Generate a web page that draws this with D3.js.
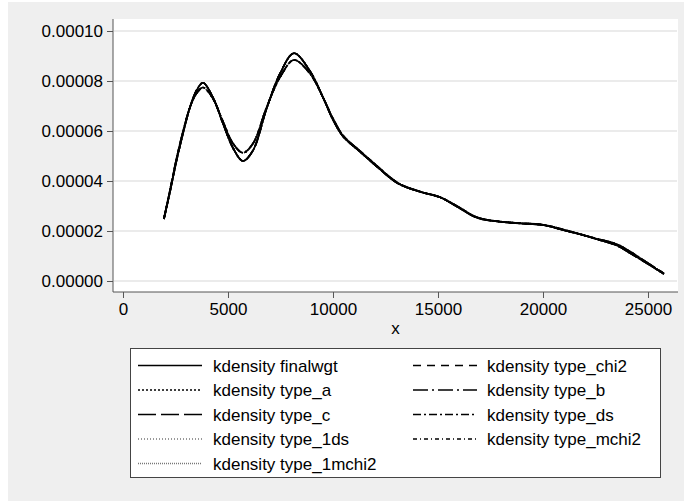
<!DOCTYPE html>
<html>
<head>
<meta charset="utf-8">
<script src="https://cdn.jsdelivr.net/npm/d3@7"></script>
<style>
  html, body { margin: 0; padding: 0; background: #fff; }
  svg text { font-family: "Liberation Sans", Arial, Helvetica, sans-serif; fill: #000; }
</style>
</head>
<body>
<main></main>
<script>
// grid of x values the densities were evaluated at
var xGrid = [1950, 2250, 2550, 2870, 3190, 3500, 3810, 4280, 4760, 5240, 5710, 6190,
             6840, 7480, 8140, 8900, 9520, 10000, 10480, 11290, 12100, 13100, 14140,
             15100, 15900, 16860, 17950, 19000, 20000, 20950, 21800, 22570, 23520,
             24140, 24950, 25760]

// narrower kernel estimates (higher peaks), in units of 1e-5
var densNarrow = [2.48, 3.62, 4.82, 5.95, 6.95, 7.62, 7.93, 7.35, 6.30, 5.32, 4.80, 5.22,
                  6.90, 8.30, 9.11, 8.40, 7.35, 6.45, 5.78, 5.17, 4.57, 3.90, 3.57,
                  3.35, 2.98, 2.53, 2.37, 2.30, 2.24, 2.04, 1.86, 1.67, 1.42,
                  1.12, 0.71, 0.28]

// smoother estimates (lower peaks), in units of 1e-5
var densWide = [2.50, 3.68, 4.90, 6.02, 6.95, 7.50, 7.74, 7.30, 6.38, 5.50, 5.13, 5.50,
                6.95, 8.15, 8.84, 8.30, 7.35, 6.50, 5.82, 5.20, 4.60, 3.92, 3.58,
                3.35, 3.00, 2.55, 2.38, 2.31, 2.25, 2.06, 1.87, 1.69, 1.47,
                1.18, 0.74, 0.30]

var seriesNames = ["kdensity finalwgt", "kdensity type_chi2", "kdensity type_a", "kdensity type_b",
                   "kdensity type_c", "kdensity type_ds", "kdensity type_1ds", "kdensity type_mchi2",
                   "kdensity type_1mchi2"]
var seriesData = [densNarrow, densNarrow, densNarrow, densWide, densNarrow, densWide, densNarrow, densWide, densWide]
var seriesDash = ["none", "8,6", "2,2", "15,4,2,4", "18,5", "8,3,2,3", "1,2", "4,3,1,3", "1,1"]
var seriesColor = ["#000", "#000", "#000", "#000", "#000", "#000", "#777", "#000", "#777"]

var yTicks = [0, 0.00002, 0.00004, 0.00006, 0.00008, 0.0001]
var xTicks = [0, 5000, 10000, 15000, 20000, 25000]

var W = 684, H = 502
var plot = {left: 113, right: 678, top: 19, bottom: 292}

var svg = d3.select("main").append("svg")
    .attr("width", W)
    .attr("height", H)
    .style("display", "block")

// graph region
svg.append("rect")
    .attr("x", 8).attr("y", 2)
    .attr("width", W - 8).attr("height", H - 3)
    .attr("fill", "#efefef")

svg.append("rect")
    .attr("x", plot.left).attr("y", plot.top)
    .attr("width", plot.right - plot.left).attr("height", plot.bottom - plot.top)
    .attr("fill", "#fff")

var x = d3.scaleLinear()
    .domain([-476, 26429])
    .range([plot.left, plot.right])

var y = d3.scaleLinear()
    .domain([-0.0000044, 0.0001048])
    .range([plot.bottom, plot.top])

// grid lines
svg.append("g")
    .selectAll("line").data(yTicks)
    .enter().append("line")
        .attr("x1", plot.left + 1)
        .attr("x2", plot.right - 1)
        .attr("y1", d => y(d))
        .attr("y2", d => y(d))
        .attr("stroke", "#e4e4e4")
        .attr("stroke-width", 1.3)

// axes
var yAxis = d3.axisLeft(y)
    .tickValues(yTicks)
    .tickFormat(d3.format(".5f"))
    .tickSize(6)
    .tickPadding(4)
    .tickSizeOuter(0)

var yGuide = svg.append("g")
    .attr("transform", "translate(" + plot.left + ",0)")
    .call(yAxis)
yGuide.select(".domain").attr("d", "M0," + plot.top + "V" + plot.bottom).attr("stroke", "#555")
yGuide.selectAll(".tick line").attr("stroke", "#555")
yGuide.selectAll("text").style("font-size", "17px").attr("fill", "#000")

var xAxis = d3.axisBottom(x)
    .tickValues(xTicks)
    .tickFormat(d3.format("d"))
    .tickSize(6)
    .tickPadding(5)
    .tickSizeOuter(0)

var xGuide = svg.append("g")
    .attr("transform", "translate(0," + plot.bottom + ")")
    .call(xAxis)
xGuide.select(".domain").attr("d", "M" + plot.left + ",0H" + plot.right).attr("stroke", "#555")
xGuide.selectAll(".tick line").attr("stroke", "#555")
xGuide.selectAll("text").style("font-size", "17px").attr("fill", "#000")

svg.append("text")
    .attr("x", (plot.left + plot.right) / 2)
    .attr("y", 334)
    .attr("text-anchor", "middle")
    .style("font-size", "17px")
    .text("x")

// density curves
var line = d3.line()
    .x((d, i) => x(xGrid[i]))
    .y(d => y(d * 1e-5))
    .curve(d3.curveCatmullRom.alpha(0.5))

svg.append("g")
    .selectAll("path").data(seriesData)
    .enter().append("path")
        .attr("d", d => line(d))
        .attr("fill", "none")
        .attr("stroke", "#000")
        .attr("stroke-width", 1.7)
        .attr("stroke-dasharray", (d, i) => seriesDash[i])

// legend
svg.append("rect")
    .attr("x", 130.5).attr("y", 348.5)
    .attr("width", 530).attr("height", 129)
    .attr("fill", "#fff")
    .attr("stroke", "#444")
    .attr("stroke-width", 1)

var legend = svg.append("g")
    .selectAll("g").data(seriesNames)
    .enter().append("g")
        .attr("transform", function(d, i) {
            var col = i % 2, row = Math.floor(i / 2)
            return "translate(" + (col ? 413 : 138) + "," + (365.5 + row * 24.5) + ")"
        })

legend.append("line")
    .attr("x1", 0).attr("x2", 64)
    .attr("y1", 0).attr("y2", 0)
    .attr("stroke", (d, i) => seriesColor[i])
    .attr("stroke-width", 1.4)
    .attr("stroke-dasharray", (d, i) => seriesDash[i])

legend.append("text")
    .attr("x", (d, i) => i % 2 ? 74 : 75)
    .attr("y", 6)
    .style("font-size", "17px")
    .text(d => d)
</script>
</body>
</html>
